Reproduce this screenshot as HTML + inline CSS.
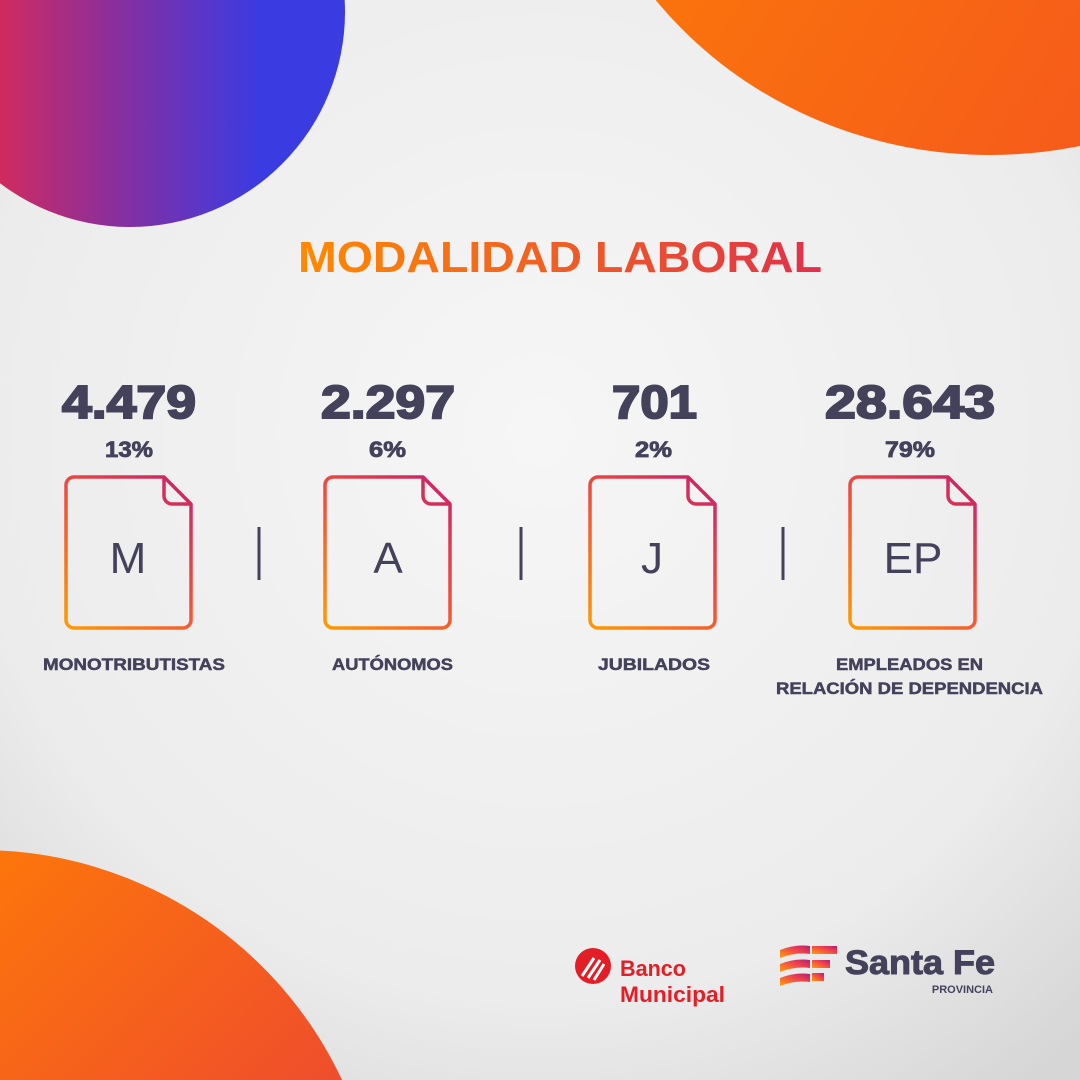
<!DOCTYPE html>
<html><head><meta charset="utf-8"><style>
html,body{margin:0;padding:0;width:1080px;height:1080px;overflow:hidden}
svg{display:block;position:absolute;left:0;top:0}
</style></head><body>
<svg width="1080" height="1080" viewBox="0 0 1080 1080" xmlns="http://www.w3.org/2000/svg" font-family="Liberation Sans, sans-serif" overflow="hidden">
<defs>
<radialGradient id="bg" cx="0.5" cy="0.4" r="0.75">
<stop offset="0" stop-color="#f6f6f6"/><stop offset="0.7" stop-color="#ececec"/><stop offset="1" stop-color="#d6d6d6"/>
</radialGradient>
<linearGradient id="tl" x1="0" y1="0" x2="1" y2="0">
<stop offset="0.1" stop-color="#ea2a48"/><stop offset="0.45" stop-color="#8d2e9a"/><stop offset="0.8" stop-color="#3b3be2"/>
</linearGradient>
<linearGradient id="tr" x1="0" y1="0" x2="1" y2="0.6">
<stop offset="0" stop-color="#ff8a00"/><stop offset="1" stop-color="#f4551e"/>
</linearGradient>
<linearGradient id="bl" x1="0" y1="0" x2="1" y2="1">
<stop offset="0.2" stop-color="#ff7d05"/><stop offset="0.8" stop-color="#e8383e"/>
</linearGradient>
<linearGradient id="title" x1="0" y1="0" x2="1" y2="0">
<stop offset="0" stop-color="#ff8a00"/><stop offset="1" stop-color="#e0304a"/>
</linearGradient>
<linearGradient id="doc" gradientUnits="userSpaceOnUse" x1="0" y1="151" x2="125" y2="0">
<stop offset="0" stop-color="#ff9a00"/><stop offset="0.5" stop-color="#f2503a"/><stop offset="1" stop-color="#c8206a"/>
</linearGradient>
<linearGradient id="sf" x1="0" y1="1" x2="1" y2="0">
<stop offset="0" stop-color="#ffa000"/><stop offset="0.6" stop-color="#f04050"/><stop offset="1" stop-color="#b02070"/>
</linearGradient>
<g id="docicon">
<path d="M8 0 H98 L125 27 V143 a8 8 0 0 1 -8 8 H8 a8 8 0 0 1 -8 -8 V8 a8 8 0 0 1 8 -8 Z" fill="none" stroke="url(#doc)" stroke-width="3.5" stroke-linejoin="round"/>
<path d="M98 0 V19 a8 8 0 0 0 8 8 H125" fill="none" stroke="url(#doc)" stroke-width="3.5" stroke-linejoin="round"/>
</g>
</defs>
<rect width="1080" height="1080" fill="url(#bg)"/>
<circle cx="130" cy="12" r="215" fill="url(#tl)"/>
<ellipse cx="990" cy="-250" rx="425" ry="405" fill="url(#tr)"/>
<circle cx="-20" cy="1250" r="400" fill="url(#bl)"/>

<text x="298" y="272" textLength="524" lengthAdjust="spacingAndGlyphs" font-size="44" font-weight="bold" fill="url(#title)">MODALIDAD LABORAL</text>

<g fill="#44425a" font-weight="bold" stroke="#44425a">
<text x="62" y="418" font-size="46" stroke-width="2" textLength="134" lengthAdjust="spacingAndGlyphs">4.479</text>
<text x="321" y="418" font-size="46" stroke-width="2" textLength="134" lengthAdjust="spacingAndGlyphs">2.297</text>
<text x="612" y="418" font-size="46" stroke-width="2" textLength="85" lengthAdjust="spacingAndGlyphs">701</text>
<text x="825" y="418" font-size="46" stroke-width="2" textLength="170" lengthAdjust="spacingAndGlyphs">28.643</text>
<text x="105" y="457" font-size="22" stroke-width="0.8" textLength="48" lengthAdjust="spacingAndGlyphs">13%</text>
<text x="369" y="457" font-size="22" stroke-width="0.8" textLength="37" lengthAdjust="spacingAndGlyphs">6%</text>
<text x="635" y="457" font-size="22" stroke-width="0.8" textLength="37" lengthAdjust="spacingAndGlyphs">2%</text>
<text x="885" y="457" font-size="22" stroke-width="0.8" textLength="50" lengthAdjust="spacingAndGlyphs">79%</text>
<g stroke-width="0.5">
<text x="43" y="670" font-size="17" textLength="182" lengthAdjust="spacingAndGlyphs">MONOTRIBUTISTAS</text>
<text x="332" y="670" font-size="17" textLength="121" lengthAdjust="spacingAndGlyphs">AUTÓNOMOS</text>
<text x="598" y="670" font-size="17" textLength="112" lengthAdjust="spacingAndGlyphs">JUBILADOS</text>
<text x="836" y="670" font-size="17" textLength="147" lengthAdjust="spacingAndGlyphs">EMPLEADOS EN</text>
<text x="776" y="694" font-size="17" textLength="267" lengthAdjust="spacingAndGlyphs">RELACIÓN DE DEPENDENCIA</text>
</g>
</g>

<use href="#docicon" x="66" y="477"/>
<use href="#docicon" x="325" y="477"/>
<use href="#docicon" x="590" y="477"/>
<use href="#docicon" x="850" y="477"/>
<g fill="#44425a" font-size="44" text-anchor="middle" font-weight="normal">
<text x="128" y="573">M</text>
<text x="388" y="573">A</text>
<text x="652" y="573">J</text>
<text x="913" y="573">EP</text>
</g>
<g stroke="#44425a" stroke-width="3">
<line x1="259" y1="527" x2="259" y2="580"/>
<line x1="521" y1="527" x2="521" y2="580"/>
<line x1="783" y1="527" x2="783" y2="580"/>
</g>

<circle cx="593" cy="966" r="18" fill="#e31e26"/>
<path d="M582 976 L594 958 M588 978 L600 960 M594 980 L604 964" stroke="#fff" stroke-width="3" fill="none"/>
<text x="620" y="976" font-size="22" font-weight="bold" fill="#e31e26" textLength="66" lengthAdjust="spacingAndGlyphs">Banco</text>
<text x="620" y="1002" font-size="22" font-weight="bold" fill="#e31e26" textLength="105" lengthAdjust="spacingAndGlyphs">Municipal</text>

<g fill="url(#sf)">
<path d="M780 950 q15 -6 30 -4 v8 q-15 -2 -30 4z"/>
<path d="M780 964 q15 -6 30 -4 v8 q-15 -2 -30 4z"/>
<path d="M780 978 q15 -6 30 -4 v8 q-15 -2 -30 4z"/>
<rect x="812" y="946" width="25" height="8"/>
<rect x="812" y="960" width="18" height="8"/>
<rect x="812" y="973" width="12" height="8"/>
</g>
<text x="845" y="974" font-size="34" font-weight="bold" fill="#44425a" stroke="#44425a" stroke-width="1" textLength="150" lengthAdjust="spacingAndGlyphs">Santa Fe</text>
<text x="993" y="993" font-size="11" font-weight="bold" fill="#44425a" text-anchor="end">PROVINCIA</text>
</svg>
</body></html>
